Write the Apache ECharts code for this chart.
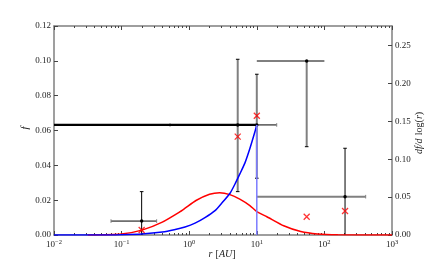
<!DOCTYPE html>
<html><head><meta charset="utf-8">
<script src="https://cdn.jsdelivr.net/npm/echarts@6/dist/echarts.min.js"></script>
<style>html,body{margin:0;padding:0;background:#fff}#c{width:436px;height:269px}</style>
</head><body><div id="c"></div>
<script>
// ---- data ----
const redX = [0.0316, 0.1, 0.2, 0.4, 0.72, 0.87, 1.26, 2.0, 2.82, 4.0, 5.6, 7.9, 10, 14.1, 25, 44.7, 79, 158, 1000];
const redY = [0.0000, 0.0006, 0.0028, 0.0074, 0.0132, 0.0154, 0.0198, 0.0234, 0.0243, 0.0232, 0.0206, 0.0169, 0.0134, 0.0105, 0.0053, 0.0020, 0.0006, 0.0001, 0.0];
const blueX = [0.01, 0.05, 0.1, 0.2, 0.4, 0.6, 0.867, 1.22, 1.71, 2.41, 3.02, 4.02, 4.76, 5.64, 6.68, 7.92, 9.4, 10];
const blueY = [0.0, 0.0, 0.0002, 0.0006, 0.0017, 0.0030, 0.0046, 0.0068, 0.0100, 0.0140, 0.0182, 0.0240, 0.0293, 0.0352, 0.0414, 0.0498, 0.0594, 0.0632];
const edgeX = [10, 10];
const edgeY = [0.0632, 0.0];
const crossX = [0.198, 5.22, 10, 54.7, 202];
const crossY = [0.0029, 0.0565, 0.0685, 0.0105, 0.0138];
const ptX   = [0.198, 5.22, 10, 54.7, 202];
const ptY   = [0.0080, 0.0632, 0.0632, 0.0999, 0.0220];
const ptXLo = [0.0697, 0.52, 0.01, 10, 10];
const ptXHi = [0.33, 19.7, 10, 100, 408];
const ptYLo = [0.0, 0.0249, 0.0326, 0.0507, 0.0];
const ptYHi = [0.0249, 0.1009, 0.0923, 0.0999, 0.0498];
const xTickExp = ['\u22122', '\u22121', '0', '1', '2', '3'];
const leftTickStep = 0.02, rightTickStep = 0.05;

// ---- styles ----
const GRAY = '#808080';
const errStyle = [
  {hc:'#000', hw:1, vc:'#000', vw:1, capL:true, capR:true, capB:false, capT:true},
  {hc:'#000', hw:1, vc:GRAY, vw:2, capL:true, capR:true, capB:true, capT:true},
  {hc:'#000', hw:2.2, vc:GRAY, vw:2, capL:false, capR:false, capB:true, capT:true},
  {hc:'#000', hw:1, vc:GRAY, vw:2, capL:false, capR:false, capB:true, capT:false},
  {hc:GRAY, hw:2, vc:'#000', vw:1, capL:false, capR:true, capB:false, capT:true}
];
const FONT = 'Liberation Serif';

const minorLog = [];
for (let k = -2; k < 3; k++) for (let m = 2; m <= 9; m++) minorLog.push(Math.log10(m) + k);

function renderErr(params, api) {
  const s = errStyle[params.dataIndex];
  const x = api.value(0), y = api.value(1);
  const c = api.coord([x, y]);
  const l = api.coord([api.value(2), y]);
  const r = api.coord([api.value(3), y]);
  const b = api.coord([x, api.value(4)]);
  const t = api.coord([x, api.value(5)]);
  const cap = 1.8;
  const ch = [];
  const line = (x1, y1, x2, y2, col, w) => ch.push({type:'line', shape:{x1, y1, x2, y2}, style:{stroke:col, lineWidth:w}});
  line(l[0], l[1], r[0], r[1], s.hc, s.hw);
  if (s.capL) line(l[0], l[1]-cap, l[0], l[1]+cap, GRAY, 1);
  if (s.capR) line(r[0], r[1]-cap, r[0], r[1]+cap, GRAY, 1);
  line(b[0], b[1], t[0], t[1], s.vc, s.vw);
  if (s.capB) line(b[0]-cap, b[1], b[0]+cap, b[1], '#000', 1);
  if (s.capT) line(t[0]-cap, t[1], t[0]+cap, t[1], '#000', 1);
  ch.push({type:'circle', shape:{cx:c[0], cy:c[1], r:1.7}, style:{fill:'#000'}});
  return {type:'group', children:ch};
}

const spine = {show:true, onZero:false, lineStyle:{color:'#7f7f7f', width:1.5}};
const noLine = {show:false, onZero:false};
const lab = {fontFamily:FONT, fontSize:9, color:'#222'};

const chart = echarts.init(document.getElementById('c'), null, {renderer:'canvas'});
chart.setOption({
  animation:false,
  backgroundColor:'#fff',
  grid:{left:54, right:44, top:26, bottom:34, containLabel:false},
  xAxis:[
    {type:'log', logBase:10, min:0.01, max:1000, position:'bottom',
     axisLine:spine, splitLine:{show:false},
     axisTick:{inside:true, length:4, lineStyle:{color:'#444'}},
     axisLabel:{margin:4, formatter:(v, i) => '{b|10}{s|' + xTickExp[i] + '}',
       rich:{b:{fontFamily:FONT, fontSize:9, color:'#222'}, s:{fontFamily:FONT, fontSize:6.5, color:'#222', padding:[0,0,5,0]}}}},
    {type:'value', min:-2, max:3, position:'bottom', axisLine:noLine, splitLine:{show:false},
     axisTick:{inside:true, length:2, customValues:minorLog, lineStyle:{color:'#444'}}, axisLabel:{show:false}},
    {type:'log', logBase:10, min:0.01, max:1000, position:'top',
     axisLine:spine, splitLine:{show:false},
     axisTick:{inside:true, length:4, lineStyle:{color:'#444'}}, axisLabel:{show:false}},
    {type:'value', min:-2, max:3, position:'top', axisLine:noLine, splitLine:{show:false},
     axisTick:{inside:true, length:2, customValues:minorLog, lineStyle:{color:'#444'}}, axisLabel:{show:false}}
  ],
  yAxis:[
    {type:'value', min:0, max:0.12, interval:leftTickStep, position:'left',
     axisLine:spine, splitLine:{show:false},
     axisTick:{inside:true, length:4, lineStyle:{color:'#444'}},
     axisLabel:Object.assign({margin:3, formatter:v => v.toFixed(2)}, lab)},
    {type:'value', min:0, max:0.2757, interval:rightTickStep, position:'right',
     axisLine:spine, splitLine:{show:false},
     axisTick:{inside:true, length:4, lineStyle:{color:'#444'}},
     axisLabel:Object.assign({margin:3, showMaxLabel:false, formatter:v => v.toFixed(2)}, lab)}
  ],
  graphic:[
    {type:'text', x:25, y:128, rotation:Math.PI/2, silent:true,
     style:{text:'f', fontFamily:FONT, fontStyle:'italic', fontSize:11, fill:'#222', align:'center', verticalAlign:'middle'}},
    {type:'text', x:419, y:133, rotation:Math.PI/2, silent:true,
     style:{text:'{i|df/d} {n|log(}{i|r}{n|)}', align:'center', verticalAlign:'middle',
       rich:{i:{fontFamily:FONT, fontStyle:'italic', fontSize:10, fill:'#222'}, n:{fontFamily:FONT, fontSize:10, fill:'#222'}}}},
    {type:'text', x:222, y:254, silent:true,
     style:{text:'{i|r} {n|[}{i|AU}{n|]}', align:'center', verticalAlign:'middle',
       rich:{i:{fontFamily:FONT, fontStyle:'italic', fontSize:10, fill:'#222'}, n:{fontFamily:FONT, fontSize:10, fill:'#222'}}}}
  ],
  series:[
    {type:'custom', xAxisIndex:0, yAxisIndex:0, renderItem:renderErr, z:3,
     encode:{x:[0,2,3], y:[1,4,5]},
     data:ptX.map((x, i) => [x, ptY[i], ptXLo[i], ptXHi[i], ptYLo[i], ptYHi[i]])},
    {type:'line', xAxisIndex:0, yAxisIndex:0, smooth:0.2, symbol:'none', z:4,
     lineStyle:{color:'#ff0000', width:1.5}, data:redX.map((x, i) => [x, redY[i]])},
    {type:'line', xAxisIndex:0, yAxisIndex:0, smooth:0.2, symbol:'none', z:4,
     lineStyle:{color:'#0000ff', width:1.5}, data:blueX.map((x, i) => [x, blueY[i]])},
    {type:'line', xAxisIndex:0, yAxisIndex:0, symbol:'none', z:4,
     lineStyle:{color:'#7b7bff', width:1.5}, data:edgeX.map((x, i) => [x, edgeY[i]])},
    {type:'scatter', xAxisIndex:0, yAxisIndex:0, z:5,
     symbol:'path://M0 0L10 10M10 0L0 10', symbolSize:6,
     itemStyle:{color:'rgba(0,0,0,0)', borderColor:'#ff0000', borderWidth:1.3},
     data:crossX.map((x, i) => [x, crossY[i]])}
  ]
});
</script></body></html>
